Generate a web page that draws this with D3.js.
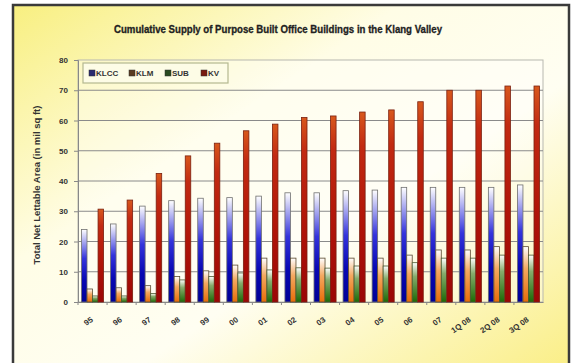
<!DOCTYPE html>
<html>
<head>
<meta charset="utf-8">
<script src="https://cdn.jsdelivr.net/npm/d3@7"></script>
<style>
  body { margin: 0; background: #fff; }
  svg { display: block; }
</style>
</head>
<body>
<svg id="chart"></svg>
<script>
// data (mil sq ft)
const categories = ["95", "96", "97", "98", "99", "00", "01", "02", "03", "04", "05", "06", "07", "1Q 08", "2Q 08", "3Q 08"];
const seriesNames = ["KLCC", "KLM", "SUB", "KV"];
const klcc = [24, 25.8, 31.7, 33.5, 34.3, 34.5, 35, 36.1, 36.1, 36.8, 37, 37.9, 37.9, 37.9, 37.9, 38.7];
const klm = [4.3, 4.7, 5.4, 8.4, 10.3, 12.2, 14.5, 14.5, 14.5, 14.5, 14.5, 15.5, 17.2, 17.2, 18.3, 18.3];
const sub = [2, 2, 2.8, 7.3, 8.4, 9.6, 10.6, 11.3, 11.2, 11.9, 11.9, 13, 14.5, 14.5, 15.5, 15.5];
const kv = [30.7, 33.7, 42.5, 48.3, 52.5, 56.6, 58.8, 61, 61.5, 62.8, 63.5, 66.2, 70, 70, 71.4, 71.4];
const yTicks = [0, 10, 20, 30, 40, 50, 60, 70, 80];

const W = 573, H = 363;
const plot = { left: 78, top: 60, right: 543, bottom: 302 };

const svg = d3.select("#chart").attr("width", W).attr("height", H);
const defs = svg.append("defs");

// background gradient (yellow corners, pale centre)
const bg = defs.append("linearGradient").attr("id", "bg")
  .attr("x1", 0).attr("y1", 0).attr("x2", 1).attr("y2", 1);
bg.append("stop").attr("offset", "0%").attr("stop-color", "#f8ef80");
bg.append("stop").attr("offset", "35%").attr("stop-color", "#fffde6");
bg.append("stop").attr("offset", "60%").attr("stop-color", "#fffef2");
bg.append("stop").attr("offset", "100%").attr("stop-color", "#faee84");

function vgrad(id, stops) {
  const g = defs.append("linearGradient").attr("id", id)
    .attr("x1", 0).attr("y1", 0).attr("x2", 0).attr("y2", 1);
  stops.forEach(([o, c]) => g.append("stop").attr("offset", o).attr("stop-color", c));
}
vgrad("g0", [["0%", "#ffffff"], ["40%", "#3434dc"], ["70%", "#0808b4"], ["100%", "#000096"]]);
vgrad("g1", [["0%", "#ffffff"], ["40%", "#f4a860"], ["100%", "#e86c08"]]);
vgrad("g2", [["0%", "#ffffff"], ["35%", "#86ac6c"], ["100%", "#1c6a06"]]);
vgrad("g3", [["0%", "#d8581c"], ["18%", "#c22a12"], ["60%", "#b01408"], ["100%", "#9a0606"]]);

const fills = ["url(#g0)", "url(#g1)", "url(#g2)", "url(#g3)"];
const strokes = ["#707070", "#5a4a30", "#4a5a30", "#7a2010"];
const legendColors = ["#2a2a70", "#5a3a20", "#2a4a20", "#7a1a10"];

// frame
svg.append("rect").attr("x", 13).attr("y", 5).attr("width", 556).attr("height", 370)
  .attr("fill", "url(#bg)").attr("stroke", "#3a3a3a").attr("stroke-width", 2.5);

// title
svg.append("text")
  .attr("x", 278).attr("y", 33)
  .attr("text-anchor", "middle")
  .attr("font-family", "'Liberation Sans Narrow', 'Liberation Sans', sans-serif")
  .attr("font-weight", "bold").attr("font-size", 10.5).attr("fill", "#222")
  .attr("stroke", "#222").attr("stroke-width", 0.3)
  .attr("textLength", 328).attr("lengthAdjust", "spacingAndGlyphs")
  .text("Cumulative Supply of Purpose Built Office Buildings in the Klang Valley");

// scales
const x0 = d3.scaleBand().domain(categories).range([plot.left, plot.right]).paddingInner(0.24).paddingOuter(0.12);
const x1 = d3.scaleBand().domain(seriesNames).range([0, x0.bandwidth()]).padding(0);
const y = d3.scaleLinear().domain([0, 80]).range([plot.bottom, plot.top]);

// plot area
svg.append("rect")
  .attr("x", plot.left).attr("y", plot.top)
  .attr("width", plot.right - plot.left).attr("height", plot.bottom - plot.top)
  .attr("fill", "#ffffff").attr("fill-opacity", 0.35)
  .attr("stroke", "#b8b8b0").attr("stroke-width", 1);

// gridlines
svg.append("g").selectAll("line").data(yTicks.slice(1, -1)).join("line")
  .attr("x1", plot.left).attr("x2", plot.right)
  .attr("y1", (d) => y(d)).attr("y2", (d) => y(d))
  .attr("stroke", "#8a8a8a").attr("stroke-width", 1);

// y axis
const gy = svg.append("g").attr("transform", `translate(${plot.left},0)`)
  .call(d3.axisLeft(y).tickValues(yTicks).tickSize(4).tickPadding(6));
gy.select(".domain").attr("stroke", "#888");
gy.selectAll(".tick line").attr("stroke", "#888");
gy.selectAll("text").attr("font-family", "'Liberation Sans Narrow', sans-serif")
  .attr("font-weight", "bold").attr("font-size", 8).attr("fill", "#333");

// x axis
const gx = svg.append("g").attr("transform", `translate(0,${plot.bottom})`)
  .call(d3.axisBottom(x0).tickSize(3).tickSizeOuter(0).tickFormat(""));
gx.select(".domain").attr("stroke", "#888");
gx.selectAll(".tick line").attr("stroke", "#888")
  .attr("transform", `translate(${-x0.step() / 2},0)`);

svg.append("g").selectAll("text").data(categories).join("text")
  .attr("transform", (d) => `translate(${x0(d) + x0.bandwidth() / 2 + 1},${plot.bottom + 19}) rotate(-35)`)
  .attr("text-anchor", "end")
  .attr("font-family", "'Liberation Sans Narrow', sans-serif")
  .attr("font-weight", "bold").attr("font-size", 8).attr("fill", "#333")
  .text((d) => d);

// y axis title
svg.append("text")
  .attr("transform", `translate(40,${(plot.top + plot.bottom) / 2 + 4}) rotate(-90)`)
  .attr("text-anchor", "middle")
  .attr("font-family", "'Liberation Sans', sans-serif")
  .attr("font-weight", "bold").attr("font-size", 9.5).attr("fill", "#333")
  .text("Total Net Lettable Area (in mil sq ft)");

// bars
const rows = categories.map((c, i) => ({
  cat: c,
  values: [klcc[i], klm[i], sub[i], kv[i]],
}));

const groups = svg.append("g").selectAll("g").data(rows).join("g")
  .attr("transform", (d) => `translate(${x0(d.cat)},0)`);

groups.selectAll("rect")
  .data((d) => d.values.map((v, k) => ({ key: seriesNames[k], k, v })))
  .join("rect")
  .attr("x", (d) => x1(d.key))
  .attr("y", (d) => y(d.v))
  .attr("width", x1.bandwidth())
  .attr("height", (d) => y(0) - y(d.v))
  .attr("fill", (d) => fills[d.k])
  .attr("stroke", (d) => strokes[d.k])
  .attr("stroke-width", 0.8);

// legend
const lg = svg.append("g").attr("transform", "translate(83,63)");
lg.append("rect").attr("width", 145).attr("height", 20)
  .attr("fill", "#fdfce6").attr("stroke", "#b4b890").attr("stroke-width", 1.2);
const legendX = [6, 46, 82, 118];
const li = lg.selectAll("g").data(seriesNames).join("g")
  .attr("transform", (d, i) => `translate(${legendX[i]},10)`);
li.append("rect").attr("x", 0).attr("y", -3).attr("width", 6).attr("height", 6)
  .attr("fill", (d, i) => legendColors[i]).attr("stroke", "#333").attr("stroke-width", 0.5);
li.append("text").attr("x", 7).attr("y", 3)
  .attr("font-family", "'Liberation Sans Narrow', sans-serif")
  .attr("font-weight", "bold").attr("font-size", 8).attr("fill", "#333")
  .text((d) => d);
</script>
</body>
</html>
